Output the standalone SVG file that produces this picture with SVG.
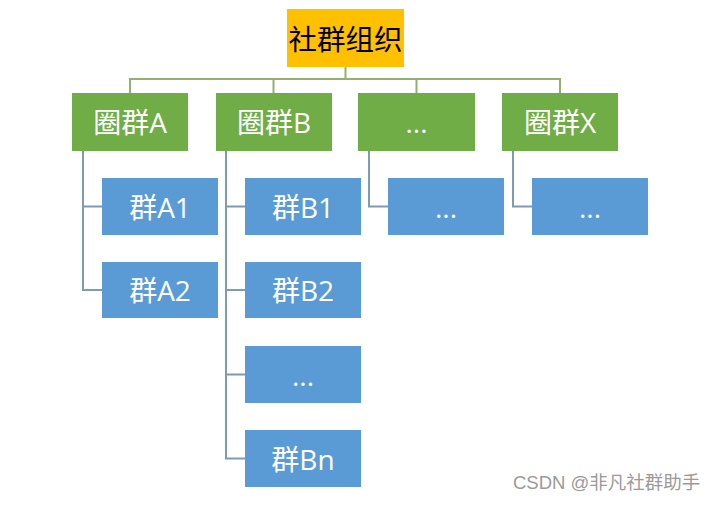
<svg xmlns="http://www.w3.org/2000/svg" width="720" height="506" viewBox="0 0 720 506">
<style>
.t{font-family:"Open Sans","Noto Sans CJK SC",sans-serif;font-size:28px;fill:#fff;text-anchor:middle;dominant-baseline:central}
.root{fill:#FFC000}
.g{fill:#70AD47}
.b{fill:#5B9BD5}
.c1{stroke:#94B071;stroke-width:2;fill:none}
.c2{stroke:#7F9AB5;stroke-width:2;fill:none}
.wm{font-family:"Liberation Sans","Noto Sans CJK SC",sans-serif;font-size:18.5px;fill:#9a9a9a}
</style>
<rect width="720" height="506" fill="#fff"/>
<g id="connectors">
<path class="c1" d="M345.5 67V79M130 93V79H560V93M273.5 79V93M416.5 79V93"/>
<path class="c2" d="M83 151V290H102M83 206.5H102"/>
<path class="c2" d="M226 151V458.5H245M226 206.5H245M226 290H245M226 374.5H245"/>
<path class="c2" d="M369 151V206.5H388"/>
<path class="c2" d="M513 151V206.5H532"/>
</g>
<g id="root"><rect class="root" x="287" y="9" width="117" height="58"/><text class="t" x="345.5" y="39" style="fill:#000;font-size:28.5px">社群组织</text></g>
<g id="qA"><rect class="g" x="72" y="93" width="116" height="58"/><text class="t" x="130" y="122">圈群A</text></g>
<g id="qB"><rect class="g" x="216" y="93" width="116" height="58"/><text class="t" x="274" y="122">圈群B</text></g>
<g id="qDots"><rect class="g" x="358" y="93" width="117" height="58"/><text class="t" x="416.5" y="122">...</text></g>
<g id="qX"><rect class="g" x="502" y="93" width="116" height="58"/><text class="t" x="560" y="122">圈群X</text></g>
<g id="A1"><rect class="b" x="102" y="178" width="116" height="57"/><text class="t" x="160" y="206.5">群A1</text></g>
<g id="A2"><rect class="b" x="102" y="262" width="116" height="56"/><text class="t" x="160" y="290">群A2</text></g>
<g id="B1"><rect class="b" x="245" y="178" width="116" height="57"/><text class="t" x="303" y="206.5">群B1</text></g>
<g id="B2"><rect class="b" x="245" y="262" width="116" height="56"/><text class="t" x="303" y="290">群B2</text></g>
<g id="Bdots"><rect class="b" x="245" y="346" width="116" height="57"/><text class="t" x="303" y="374.5">...</text></g>
<g id="Bn"><rect class="b" x="245" y="430" width="116" height="57"/><text class="t" x="303" y="458.5">群Bn</text></g>
<g id="Cdots"><rect class="b" x="388" y="178" width="116" height="57"/><text class="t" x="446" y="206.5">...</text></g>
<g id="Xdots"><rect class="b" x="532" y="178" width="116" height="57"/><text class="t" x="590" y="206.5">...</text></g>
<text class="wm" x="513" y="489">CSDN @非凡社群助手</text>
</svg>
